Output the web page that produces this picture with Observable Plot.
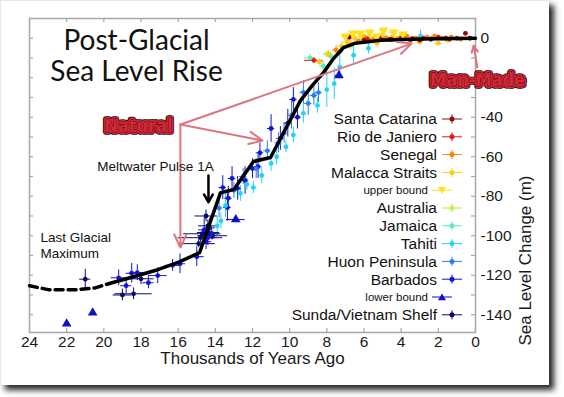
<!DOCTYPE html>
<html><head><meta charset="utf-8">
<script src="https://cdn.jsdelivr.net/npm/d3@7"></script>
<script src="https://cdn.jsdelivr.net/npm/@observablehq/plot@0.6"></script>
<style>
html,body{margin:0;padding:0;background:#fff;}
#card{position:absolute;left:0;top:0;width:549px;height:385px;background:#fff;
  box-shadow:5px 5px 6px rgba(0,0,0,0.85), inset 1px 1px 0 #e6e6e6;}
#chart{position:absolute;left:0;top:0;}
#legend{position:absolute;left:0;top:0;}
</style></head><body>
<div id="card"><div id="chart"></div><svg id="legend" width="549" height="385"></svg></div>
<script>
// ---------- data ----------
const xTicks = [24,22,20,18,16,14,12,10,8,6,4,2,0];
const yTicks = [0,-10,-20,-30,-40,-50,-60,-70,-80,-90,-100,-110,-120,-130,-140];
const yLabels = [0,-40,-60,-80,-100,-120,-140];

const seriesNames = ["Santa Catarina","Rio de Janiero","Senegal","Malacca Straits","upper bound",
  "Australia","Jamaica","Tahiti","Huon Peninsula","Barbados","lower bound","Sunda/Vietnam Shelf"];

// [thousand years ago, sea level (m), age error, level error]
const santaCatarina = [[0.54,2.5,0.1,1],[0.3,0,0.1,1],[1.6,0,0.1,1],[2.4,-0.5,0.1,1],[3.0,-1,0.2,1],[3.4,-0.2,0.1,1],[4.0,0,0.2,1],[4.6,-0.6,0.1,1],[5.2,0.5,0.2,1],[6.0,-1,0.2,1],[6.8,0.5,0.1,1]];
const rioDeJaniero = [[8.7,-11.2,0.5,1.5],[5.8,-0.5,0.2,1],[5.0,-0.8,0.2,1],[4.5,-0.5,0.2,1],[3.9,0.6,0.2,1],[3.5,-1,0.2,1],[2.8,0,0.2,1],[2.0,0.5,0.2,1],[1.4,-0.5,0.2,1],[1.0,0,0.2,1]];
const senegal = [[7.5,-6,0.2,1.5],[6.3,-1.5,0.2,1],[5.9,0.2,0.2,1],[5.5,-1,0.2,1],[4.8,0,0.2,1],[4.2,-0.5,0.2,1],[3.7,1,0.2,1],[3.2,0,0.2,1],[2.6,0.5,0.2,1],[2.2,1,0.2,1],[1.8,0,0.2,1],[1.3,0.5,0.2,1],[0.8,-0.5,0.2,1]];
const malaccaStraits = [[8.4,-12,0.3,1.5],[7.9,-8,0.2,2],[7.2,-4,0.3,1.5],[6.9,-2,0.3,1.5],[6.7,-3.5,0.2,2.5],[6.5,0,0.3,1.5],[6.0,1,0.3,1.5],[5.5,0,0.3,1.5],[5.3,-2.5,0.2,2],[5.0,1.5,0.3,1.5],[4.5,0.5,0.3,1.5],[4.0,1,0.3,1.5],[3.0,-2,0.2,1],[2.0,-2.5,0.2,1],[1.5,-1,0.2,1]];
const upperBound = [[7.0,1,0.2,0],[6.6,2.5,0.2,0],[6.2,2.5,0.2,0],[5.7,3,0.2,0],[5.3,1,0.2,0],[4.95,4,0.2,0],[4.4,3,0.2,0],[3.9,2,0.2,0]];
const australia = [[8.0,-8,0.2,2],[7.5,-6,0.2,2],[6.8,-3,0.2,2],[6.2,-1,0.2,2]];
const jamaica = [[8.9,-10,0.3,2],[8.2,-14,0.2,2],[7.8,-9,0.2,2],[7.3,-7,0.2,2]];
const tahiti = [[13.9,-95,0.1,5],[13.7,-92.5,0.1,4],[13.45,-84.7,0.1,6],[12.65,-78.6,0.1,4],[12.3,-74,0.1,3],[11.95,-75.6,0.1,3],[11.5,-69.5,0.1,4],[11.0,-63.4,0.1,4],[10.7,-60,0.1,4],[10.2,-55,0.1,3],[9.8,-49,0.1,4],[9.26,-38,0.1,5],[8.5,-34,0.1,4],[8.0,-26,0.1,9],[7.6,-23,0.1,8],[7.3,-14.6,0.1,6],[6.56,-8.6,0.1,5],[5.76,-5.1,0.1,3],[2.96,1,0.1,3]];
const huonPeninsula = [[13.8,-86,0.2,5],[13.0,-77,0.2,4],[12.5,-70,0.2,4],[11.8,-66,0.2,5],[11.2,-57,0.2,5],[10.6,-53,0.2,5],[10.3,-48,0.2,5],[9.9,-39,0.2,7],[9.26,-27.4,0.2,6],[9.0,-33,0.2,6],[8.7,-29,0.2,5],[8.45,-27.5,0.2,5]];
const barbados = [[19.2,-121.3,0.4,4],[18.8,-125.3,0.3,4],[18.5,-119,0.3,5],[18.2,-118.7,0.4,4],[17.6,-123.8,0.3,3],[17.1,-120.2,0.5,4],[16.3,-115,0.4,3],[15.9,-114.2,0.3,5],[15.0,-110.6,0.4,5],
  [14.6,-97,0.3,6],[14.4,-101,0.5,4],[14.3,-96,0.3,5],[14.2,-99,0.4,3],[14.5,-103,0.3,4],
  [13.6,-75.6,0.2,6],[13.35,-85.7,0.2,7],[13.3,-81,0.2,6],[13.1,-71,0.2,6],[12.8,-76,0.2,6],[12.4,-72,0.2,7],[12.0,-66,0.2,5],[11.7,-65,0.2,6],[11.6,-58,0.2,5],[11.0,-45.7,0.2,7],[10.5,-50.7,0.2,6],[10.1,-43,0.2,7],[9.8,-31,0.2,6],[9.58,-40,0.2,6]];
const lowerBound = [[22.0,-144.6,0,0],[20.6,-139,0,0],[12.9,-91.8,0.5,0],[7.35,-18.8,0.2,0]];
const sundaShelf = [[21.0,-122,0.3,5],[19.0,-130,0.5,3],[18.4,-129.4,1.0,3],[18.0,-121.8,0.7,3],[14.9,-104,0.9,2],[14.8,-101,1.2,2],[14.7,-99,1.0,2],[14.5,-90,0.6,3],[14.4,-95,0.5,3],[14.37,-98.4,0.6,2],[14.15,-100,0.8,2]];

const seriesData = [santaCatarina,rioDeJaniero,senegal,malaccaStraits,upperBound,australia,jamaica,tahiti,huonPeninsula,barbados,lowerBound,sundaShelf];

// reconstructed sea level curve [kyr ago, m]
const curveSolid = [[19.75,-124.3],[18.5,-121],[17.1,-117.2],[16.0,-113.5],[14.85,-108.6],[13.72,-78.2],[13.0,-76.6],[11.95,-62.4],[11.03,-60.4],[9.42,-31.6],[8.79,-24],[8.18,-17.4],[7.64,-10.3],[7.1,-4.7],[6.5,-2.6],[5.1,-1.0],[3.0,-0.4],[0,0]];
const curveDashed = [[24,-125.3],[23,-127.3],[21.5,-127.3],[20.5,-126.5],[19.75,-124.3]];

// annotations [x1,y1,x2,y2] in chart units
const naturalArrows = [[15.88,-43.7,3.44,-2.7],[15.88,-43.7,11.46,-51.8],[15.88,-43.7,15.88,-106]];
const manMadeArrow = [[-0.1,-14.8,0.1,-3.7]];
const meltwaterArrow = [[14.37,-69.5,14.37,-83]];
const stampLabels = [["Natural",18.14,-44.7],["Man-Made",-0.11,-21.4]];
const centerNotes = [["Meltwater Pulse 1A",17.22,-64.5]];
const leftNotes = [["Last Glacial\nMaximum",23.41,-104.7]];
const titleText = "Post-Glacial\nSea Level Rise";
const xLabel = "Thousands of Years Ago";
const yLabel = "Sea Level Change (m)";

// ---------- styles ----------
const seriesColors = ["#8e0b0b","#e01a1a","#ff7f10","#ffc81e","#ffe01a","#c4ee4a","#5cf0b4","#22d6f2","#2a7ef0","#1414d2","#1010c8","#0c0c66"];
const W = 549, H = 385, mL = 29, mR = 74, mT = 18, mB = 53;
const frameW = W - mL - mR, frameH = H - mT - mB;
const gray = "#a8a8a8";
const pink = "#dc7580";
const font = "'Liberation Sans', Arial, sans-serif";

const rows = [];
for (let i = seriesNames.length - 1; i >= 0; i--) {
  for (const [a, l, ea, el] of seriesData[i]) rows.push({series: seriesNames[i], age: a, level: l, ea, el});
}
const isBound = d => d.series === "upper bound" || d.series === "lower bound";

const stamp = (extra) => Plot.text(stampLabels, {x: d => d[1], y: d => d[2], text: d => d[0],
  fontFamily: "'Liberation Sans Narrow', 'DejaVu Sans Condensed', sans-serif", fontWeight: "bold", fontSize: 18,
  strokeLinejoin: "round", ...extra});
const note = (data, anchor) => Plot.text(data, {x: d => d[1], y: d => d[2], text: d => d[0], textAnchor: anchor, fontSize: 13.5, lineHeight: 1.2, fill: "#111"});

const chart = Plot.plot({
  width: W, height: H, marginLeft: mL, marginRight: mR, marginTop: mT, marginBottom: mB,
  style: {fontFamily: font, background: "transparent", overflow: "visible"},
  x: {domain: [24, 0], axis: null},
  y: {domain: [-149, 10], axis: null},
  color: {domain: seriesNames, range: seriesColors},
  marks: [
    Plot.frame({stroke: gray, strokeWidth: 1.5}),
    Plot.tickY(yTicks, {y: d => d, stroke: gray, strokeWidth: 1.2, insetRight: frameW - 4}),
    Plot.tickY(yTicks, {y: d => d, stroke: gray, strokeWidth: 1.2, insetLeft: frameW - 4}),
    Plot.tickX(xTicks, {x: d => d, stroke: gray, strokeWidth: 1.2, insetTop: frameH - 4}),
    Plot.tickX(xTicks, {x: d => d, stroke: gray, strokeWidth: 1.2, insetBottom: frameH - 4}),
    Plot.text(xTicks, {x: d => d, frameAnchor: "bottom", dy: 14, fontSize: 15.5, fill: "#1a1a1a"}),
    Plot.text(yLabels, {y: d => d, frameAnchor: "right", dx: 5, textAnchor: "start", fontSize: 15.5, fill: "#1a1a1a"}),
    Plot.text([xLabel], {frameAnchor: "bottom", dy: 31, fontSize: 17, fill: "#1a1a1a"}),
    Plot.text([yLabel], {frameAnchor: "right", dx: 50, rotate: -90, fontSize: 17, fill: "#1a1a1a"}),
    Plot.text([titleText], {frameAnchor: "top-left", dx: 107, dy: 10, lineAnchor: "top", textAnchor: "middle",
      fontFamily: "Lato, 'Open Sans', sans-serif", fontSize: 28, lineHeight: 1.1, fill: "#111"}),
    // error bars
    Plot.ruleX(rows.filter(d => d.el > 0), {x: "age", y1: d => d.level - d.el, y2: d => d.level + d.el, stroke: "series", strokeWidth: 1}),
    Plot.ruleY(rows.filter(d => d.ea > 0), {y: "level", x1: d => d.age - d.ea, x2: d => d.age + d.ea, stroke: "series", strokeWidth: 1}),
    // points
    Plot.dot(rows.filter(d => !isBound(d)), {x: "age", y: "level", fill: "series", r: 2.4}),
    Plot.dot(rows.filter(d => d.series === "lower bound"), {x: "age", y: "level", fill: "series", symbol: "triangle", r: 3.6}),
    Plot.dot(rows.filter(d => d.series === "upper bound"), {x: "age", y: "level", fill: "series", symbol: "triangle", rotate: 180, r: 3.6}),
    // curve
    Plot.line(curveDashed, {x: d => d[0], y: d => d[1], stroke: "#000", strokeWidth: 3.5, strokeDasharray: "8,5"}),
    Plot.line(curveSolid, {x: d => d[0], y: d => d[1], stroke: "#000", strokeWidth: 3.5, strokeLinejoin: "round"}),
    // annotations
    Plot.arrow(naturalArrows, {x1: d => d[0], y1: d => d[1], x2: d => d[2], y2: d => d[3], stroke: pink, strokeWidth: 2, headLength: 11, headAngle: 50}),
    Plot.arrow(manMadeArrow, {x1: d => d[0], y1: d => d[1], x2: d => d[2], y2: d => d[3], stroke: pink, strokeWidth: 2, headLength: 9, headAngle: 50}),
    Plot.arrow(meltwaterArrow, {x1: d => d[0], y1: d => d[1], x2: d => d[2], y2: d => d[3], stroke: "#000", strokeWidth: 2.5, headLength: 8, headAngle: 60}),
    note(centerNotes, "middle"),
    note(leftNotes, "start"),
    stamp({fill: "#2a0606", stroke: "#2a0606", strokeWidth: 5.5}),
    stamp({fill: "#d42838", stroke: "#d42838", strokeWidth: 3.8}),
    stamp({fill: "#d42838", stroke: "#3a0808", strokeWidth: 0.8})
  ]
});
document.getElementById("chart").append(chart);

// ---------- legend ----------
const lg = d3.select("#legend");
seriesNames.forEach((name, i) => {
  const y = 119 + i * 17.8;
  const small = name === "upper bound" || name === "lower bound";
  const c = seriesColors[i];
  const tx = small ? 428 : 437;
  lg.append("text").attr("x", tx).attr("y", y).attr("text-anchor", "end").attr("dy", "0.35em")
    .attr("font-family", font).attr("font-size", small ? 11.5 : 15.5).attr("fill", "#111").text(name);
  const mx = small ? 442 : 452;
  lg.append("line").attr("x1", mx - 10).attr("x2", mx + 10).attr("y1", y).attr("y2", y).attr("stroke", c).attr("stroke-width", 1);
  if (small) {
    const s = 4;
    const pts = name === "upper bound"
      ? [[mx - s, y - s * 0.8], [mx + s, y - s * 0.8], [mx, y + s * 0.9]]
      : [[mx - s, y + s * 0.8], [mx + s, y + s * 0.8], [mx, y - s * 0.9]];
    lg.append("polygon").attr("points", pts.map(p => p.join(",")).join(" ")).attr("fill", c);
  } else {
    lg.append("line").attr("x1", mx).attr("x2", mx).attr("y1", y - 4.5).attr("y2", y + 4.5).attr("stroke", c).attr("stroke-width", 1);
    lg.append("circle").attr("cx", mx).attr("cy", y).attr("r", 2.5).attr("fill", c);
  }
});
</script></body></html>
